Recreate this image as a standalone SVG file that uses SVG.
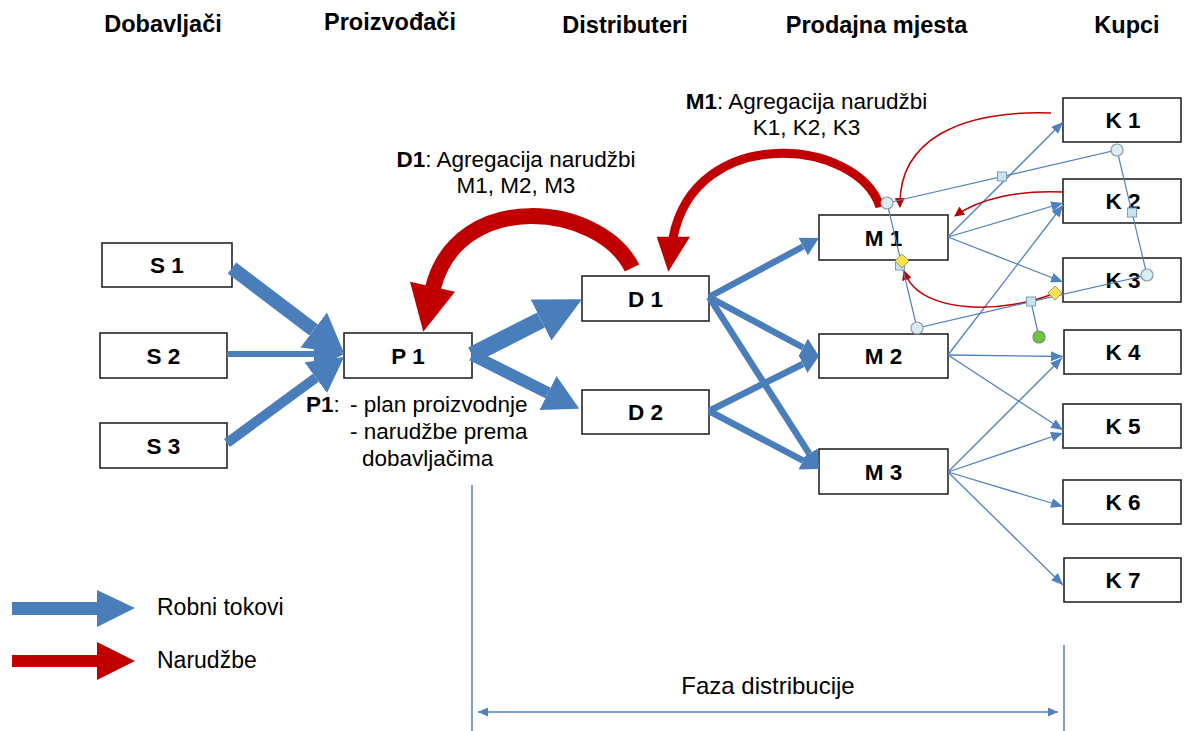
<svg xmlns="http://www.w3.org/2000/svg" width="1184" height="731" viewBox="0 0 1184 731">
<style>
text{font-family:"Liberation Sans",Arial,sans-serif;fill:#000}
.hdr{font-size:23.5px;font-weight:bold;text-anchor:middle}
.lbl{font-size:22.5px;font-weight:bold;text-anchor:middle}
.ann{font-size:22.5px}
.box{fill:#fff;stroke:#262626;stroke-width:1.6}
.flow{stroke:#4a7ebb;fill:none}
.thin{stroke:#4f81bd;stroke-width:1.3;fill:none;marker-end:url(#mThin)}
.red{stroke:#c00000;fill:none}
.hl{stroke:#4f81bd;stroke-width:1.2;fill:none}
.hc{fill:#dbeef3;stroke:#8c9ba5;stroke-width:1.2}
.hs{fill:#c9e3f1;stroke:#7b9fbd;stroke-width:1}
.hd{fill:#ffe14d;stroke:#9a9a70;stroke-width:1}
</style>
<defs>
<marker id="m46" markerUnits="userSpaceOnUse" markerWidth="46" markerHeight="46" refX="0" refY="23" orient="auto" viewBox="0 0 46 46"><path d="M0,0 L46,23 L0,46 Z" fill="#4a7ebb"/></marker>
<marker id="m38" markerUnits="userSpaceOnUse" markerWidth="38" markerHeight="44" refX="0" refY="22" orient="auto" viewBox="0 0 38 44"><path d="M0,0 L38,22 L0,44 Z" fill="#4a7ebb"/></marker>
<marker id="m35" markerUnits="userSpaceOnUse" markerWidth="35" markerHeight="38" refX="0" refY="19" orient="auto" viewBox="0 0 35 38"><path d="M0,0 L35,19 L0,38 Z" fill="#4a7ebb"/></marker>
<marker id="m30" markerUnits="userSpaceOnUse" markerWidth="30" markerHeight="32" refX="0" refY="16" orient="auto" viewBox="0 0 30 32"><path d="M0,0 L30,16 L0,32 Z" fill="#4a7ebb"/></marker>
<marker id="m18" markerUnits="userSpaceOnUse" markerWidth="18" markerHeight="20" refX="0" refY="10" orient="auto" viewBox="0 0 18 20"><path d="M0,0 L18,10 L0,20 Z" fill="#4a7ebb"/></marker>
<marker id="mThin" markerUnits="userSpaceOnUse" markerWidth="12" markerHeight="10" refX="12" refY="5" orient="auto" viewBox="0 0 12 10"><path d="M0,0 L12,5 L0,10 Z" fill="#4f81bd"/></marker>
<marker id="mDbl" markerUnits="userSpaceOnUse" markerWidth="10" markerHeight="9" refX="10" refY="4.5" orient="auto-start-reverse" viewBox="0 0 10 9"><path d="M0,0 L10,4.5 L0,9 Z" fill="#4f81bd"/></marker>
<marker id="mRed" markerUnits="userSpaceOnUse" markerWidth="10" markerHeight="10" refX="9" refY="5" orient="auto" viewBox="0 0 10 10"><path d="M0,0 L10,5 L0,10 Z" fill="#c00000"/></marker>
</defs>

<g id="headers">
<text class="hdr" x="163" y="32">Dobavljači</text>
<text class="hdr" x="390" y="30">Proizvođači</text>
<text class="hdr" x="625" y="33">Distributeri</text>
<text class="hdr" x="876.5" y="33">Prodajna mjesta</text>
<text class="hdr" x="1127" y="33">Kupci</text>
</g>

<g id="S1"><rect class="box" x="102" y="243" width="130" height="44"/><text class="lbl" x="167" y="273">S 1</text></g>
<g id="S2"><rect class="box" x="100" y="333" width="127" height="45"/><text class="lbl" x="163.5" y="363.5">S 2</text></g>
<g id="S3"><rect class="box" x="100" y="423" width="127" height="45"/><text class="lbl" x="163.5" y="453.5">S 3</text></g>
<g id="P1"><rect class="box" x="344" y="333" width="128" height="45"/><text class="lbl" x="408" y="363.5">P 1</text></g>
<g id="D1"><rect class="box" x="582" y="276" width="127" height="45"/><text class="lbl" x="645.5" y="306.5">D 1</text></g>
<g id="D2"><rect class="box" x="582" y="390" width="127" height="44"/><text class="lbl" x="645.5" y="420">D 2</text></g>
<g id="M1"><rect class="box" x="819" y="215" width="129" height="45"/><text class="lbl" x="883.5" y="245.5">M 1</text></g>
<g id="M2"><rect class="box" x="819" y="334" width="129" height="44"/><text class="lbl" x="883.5" y="364">M 2</text></g>
<g id="M3"><rect class="box" x="819" y="449" width="129" height="45"/><text class="lbl" x="883.5" y="479.5">M 3</text></g>
<g id="K1"><rect class="box" x="1063" y="98" width="118" height="44"/><text class="lbl" x="1123" y="128">K 1</text></g>
<g id="K2"><rect class="box" x="1063" y="179" width="118" height="44"/><text class="lbl" x="1123" y="209">K 2</text></g>
<g id="K3"><rect class="box" x="1063" y="258" width="118" height="44"/><text class="lbl" x="1123" y="288">K 3</text></g>
<g id="K4"><rect class="box" x="1064" y="330" width="117" height="44"/><text class="lbl" x="1123" y="360">K 4</text></g>
<g id="K5"><rect class="box" x="1063" y="404" width="118" height="44"/><text class="lbl" x="1123" y="434">K 5</text></g>
<g id="K6"><rect class="box" x="1063" y="480" width="118" height="44"/><text class="lbl" x="1123" y="510">K 6</text></g>
<g id="K7"><rect class="box" x="1064" y="558" width="117" height="44"/><text class="lbl" x="1123" y="588">K 7</text></g>

<g id="connectors">
<line class="flow" x1="232" y1="268" x2="313.7" y2="330" stroke-width="14" marker-end="url(#m38)"/>
<line class="flow" x1="227" y1="354" x2="314" y2="354" stroke-width="6" marker-end="url(#m30)"/>
<line class="flow" x1="227" y1="443" x2="315.8" y2="377.7" stroke-width="10" marker-end="url(#m35)"/>
<line class="flow" x1="472" y1="355" x2="541" y2="320" stroke-width="17" marker-end="url(#m46)"/>
<line class="flow" x1="472" y1="355" x2="548" y2="393" stroke-width="12" marker-end="url(#m35)"/>
<line class="flow" x1="709" y1="297" x2="803.1" y2="246.5" stroke-width="6.5" marker-end="url(#m18)"/>
<line class="flow" x1="709" y1="297" x2="803.1" y2="347.5" stroke-width="6.5" marker-end="url(#m18)"/>
<line class="flow" x1="709" y1="297" x2="809.3" y2="453.8" stroke-width="6.5" marker-end="url(#m18)"/>
<line class="flow" x1="709" y1="411" x2="802.9" y2="364" stroke-width="6.5" marker-end="url(#m18)"/>
<line class="flow" x1="709" y1="411" x2="803.1" y2="460.6" stroke-width="6.5" marker-end="url(#m18)"/>

<line class="thin" x1="948" y1="237" x2="1063" y2="122"/>
<line class="thin" x1="948" y1="237" x2="1063" y2="203"/>
<line class="thin" x1="948" y1="237" x2="1063" y2="282"/>
<line class="thin" x1="948" y1="355" x2="1063" y2="205"/>
<line class="thin" x1="948" y1="355" x2="1063" y2="356.5"/>
<line class="thin" x1="948" y1="355" x2="1063" y2="430"/>
<line class="thin" x1="948" y1="472" x2="1062" y2="358"/>
<line class="thin" x1="948" y1="472" x2="1063" y2="433"/>
<line class="thin" x1="948" y1="472" x2="1063" y2="506.5"/>
<line class="thin" x1="948" y1="472" x2="1063" y2="585"/>

<path class="red" d="M632,268 C600,203 458,188 433,288" stroke-width="16"/>
<polygon points="410,281.7 455,291.7 423.3,331.7" fill="#c00000"/>
<path class="red" d="M880,207 C858,138 695,123 673,238" stroke-width="9"/>
<polygon points="656.7,236.7 690,236.7 668.3,271.7" fill="#c00000"/>

<path class="red" d="M1051,113 C960,110 898,140 900,207" stroke-width="1.5" marker-end="url(#mRed)"/>
<path class="red" d="M1063,192 C1020,190 980,198 955,216" stroke-width="1.5" marker-end="url(#mRed)"/>
<path class="red" d="M1055,293 C1010,312 920,318 904,271" stroke-width="1.5" marker-end="url(#mRed)"/>

<line x1="472" y1="485" x2="472" y2="731" stroke="#4f81bd" stroke-width="1.5"/>
<line x1="1064" y1="645" x2="1064" y2="731" stroke="#4f81bd" stroke-width="1.5"/>
<line x1="478" y1="712" x2="1058" y2="712" stroke="#4f81bd" stroke-width="1.5" marker-start="url(#mDbl)" marker-end="url(#mDbl)"/>
</g>

<g id="handles">
<polygon class="hl" points="887,203 1117,150 1147,275 917,328"/>
<line class="hl" x1="1031" y1="302" x2="1039" y2="337"/>
<rect class="hs" x="997.5" y="172" width="9" height="9"/>
<rect class="hs" x="1127.5" y="208" width="9" height="9"/>
<rect class="hs" x="1026.5" y="297" width="9" height="9"/>
<rect class="hs" x="895.5" y="261" width="9" height="9"/>
<circle class="hc" cx="887" cy="203" r="6"/>
<circle class="hc" cx="1117" cy="150" r="6"/>
<circle class="hc" cx="1147" cy="275" r="6"/>
<circle class="hc" cx="917" cy="328" r="6"/>
<polygon class="hd" points="902,254 909,261 902,268 895,261"/>
<polygon class="hd" points="1055,286 1062,293 1055,300 1048,293"/>
<circle cx="1039" cy="337" r="6" fill="#6cc83a" stroke="#7a8a70" stroke-width="1.2"/>
</g>

<g id="annotations">
<text class="ann" x="516" y="167" text-anchor="middle"><tspan font-weight="bold">D1</tspan>: Agregacija narudžbi</text>
<text class="ann" x="516" y="193" text-anchor="middle">M1, M2, M3</text>
<text class="ann" x="806.5" y="109" text-anchor="middle"><tspan font-weight="bold">M1</tspan>: Agregacija narudžbi</text>
<text class="ann" x="806.5" y="135" text-anchor="middle">K1, K2, K3</text>
<text class="ann" x="306" y="412"><tspan font-weight="bold">P1</tspan>:</text>
<text class="ann" x="350" y="412">- plan proizvodnje</text>
<text class="ann" x="350" y="439">- narudžbe prema</text>
<text class="ann" x="362" y="466">dobavljačima</text>
<text x="768" y="694" text-anchor="middle" font-size="24">Faza distribucije</text>
</g>

<g id="legend">
<rect x="12" y="602" width="86" height="13" fill="#4a7ebb"/>
<polygon points="97,590 135,608 97,627" fill="#4a7ebb"/>
<text x="157" y="615" font-size="23">Robni tokovi</text>
<rect x="12" y="655" width="86" height="12" fill="#c00000"/>
<polygon points="97,642 135,661 97,680" fill="#c00000"/>
<text x="157" y="668" font-size="23">Narudžbe</text>
</g>
</svg>
